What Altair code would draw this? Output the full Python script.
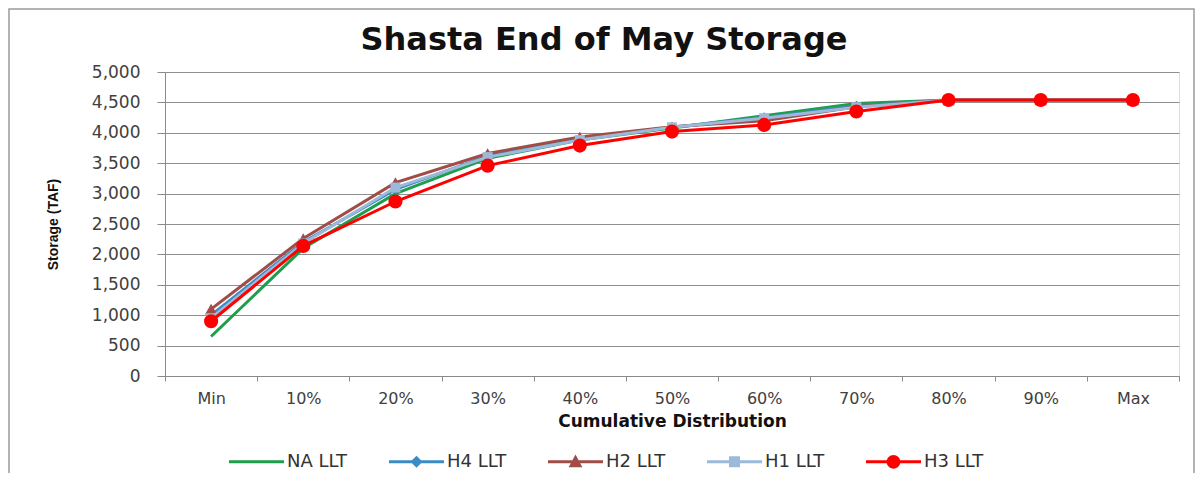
import altair as alt
import pandas as pd

categories = ["Min", "10%", "20%", "30%", "40%", "50%", "60%", "70%", "80%", "90%", "Max"]
series_names = ["NA LLT", "H4 LLT", "H2 LLT", "H1 LLT", "H3 LLT"]
na_llt = [650, 2100, 3000, 3580, 3880, 4080, 4280, 4480, 4540, 4540, 4540]
h4_llt = [1000, 2200, 3070, 3620, 3900, 4090, 4250, 4440, 4540, 4540, 4540]
h2_llt = [1100, 2260, 3180, 3660, 3930, 4100, 4200, 4430, 4540, 4540, 4540]
h1_llt = [950, 2180, 3100, 3600, 3880, 4090, 4240, 4420, 4540, 4540, 4540]
h3_llt = [900, 2140, 2870, 3460, 3790, 4020, 4130, 4350, 4540, 4540, 4540]
y_ticks = list(range(0, 5001, 500))

colors = ["#1E9E4A", "#3B8CC4", "#A04D47", "#9DB9DA", "#FF0000"]
markers = [None, "diamond", "triangle-up", "square", "circle"]
marker_sizes = [0, 110, 150, 100, 200]

# legend symbols: line segment + marker (unit space [-1,1])
LINE = "M-1,-0.055H1V0.055H-1Z"
legend_paths = [
    LINE,
    LINE + "M0,-0.22L0.22,0L0,0.22L-0.22,0Z",
    LINE + "M0,-0.26L0.25,0.2L-0.25,0.2Z",
    LINE + "M-0.2,-0.2H0.2V0.2H-0.2Z",
    LINE + "M-0.25,0A0.25,0.25 0 1,1 0.25,0A0.25,0.25 0 1,1 -0.25,0Z",
]

values = [na_llt, h4_llt, h2_llt, h1_llt, h3_llt]
rows = []
for name, vals in zip(series_names, values):
    for c, v in zip(categories, vals):
        rows.append({"series": name, "cat": c, "val": v})
df = pd.DataFrame(rows)

W, H = 1014, 304
FONT = "DejaVu Sans"

x_enc = alt.X(
    "cat:N",
    sort=categories,
    scale=alt.Scale(type="band", domain=categories, paddingInner=0, paddingOuter=0),
    axis=alt.Axis(
        title="Cumulative Distribution",
        labelAngle=0,
        tickBand="extent",
        grid=False,
        domainColor="#8a8a8a",
        tickColor="#8a8a8a",
        tickSize=5,
        labelPadding=9,
        labelFont=FONT,
        labelFontSize=16,
        labelColor="#404040",
        titleFont=FONT,
        titleFontSize=17,
        titleFontWeight="bold",
        titleColor="#111111",
        titlePadding=7,
    ),
)
y_enc = alt.Y(
    "val:Q",
    scale=alt.Scale(domain=[0, 5000], nice=False, zero=True),
    axis=alt.Axis(
        title="Storage (TAF)",
        values=y_ticks,
        format=",d",
        grid=True,
        gridColor="#8f8f8f",
        gridWidth=1,
        domainColor="#8a8a8a",
        tickColor="#8a8a8a",
        tickSize=8,
        labelPadding=17,
        labelFont=FONT,
        labelFontSize=17,
        labelColor="#404040",
        titleFont="Liberation Sans",
        titleFontSize=14,
        titleFontWeight="bold",
        titleColor="#111111",
        titlePadding=31,
    ),
)

layers = []
frame = alt.Chart(alt.Data(values=[{"f": 1}])).mark_rect(
    fill=None, fillOpacity=0, stroke="#9a9a9a", strokeWidth=1.5
).encode(
    x=alt.value(-156), x2=alt.value(W + 15), y=alt.value(-63), y2=alt.value(H + 200)
)
layers.append(frame)

for name, col, mk, ms in zip(series_names, colors, markers, marker_sizes):
    base = alt.Chart(df).transform_filter(alt.datum.series == name)
    layers.append(base.mark_line(color=col, strokeWidth=3).encode(x=x_enc, y=y_enc))
    if mk is not None:
        layers.append(
            base.mark_point(shape=mk, size=ms, filled=True, color=col, opacity=1).encode(
                x=x_enc, y=y_enc
            )
        )

legend_df = pd.DataFrame({"series": series_names})
leg = dict(
    title=None,
    orient="none",
    legendX=64,
    legendY=362,
    direction="horizontal",
    columns=5,
    symbolSize=3025,
    symbolStrokeWidth=0,
    symbolOpacity=1,
    labelOffset=3,
    columnPadding=41,
    labelFont=FONT,
    labelFontSize=18,
    labelColor="#333333",
    padding=0,
)
legend_layer = alt.Chart(legend_df).mark_point(filled=True, size=10, opacity=0).encode(
    x=alt.value(W / 2),
    y=alt.value(H / 2),
    color=alt.Color(
        "series:N",
        sort=series_names,
        scale=alt.Scale(domain=series_names, range=colors),
        legend=alt.Legend(**leg),
    ),
    shape=alt.Shape(
        "series:N",
        sort=series_names,
        scale=alt.Scale(domain=series_names, range=legend_paths),
        legend=alt.Legend(**leg),
    ),
)
layers.append(legend_layer)

chart = alt.layer(*layers).properties(
    width=W,
    height=H,
    autosize=alt.AutoSizeParams(type="none"),
    padding={"left": 157, "top": 64, "right": 16, "bottom": 97},
    title=alt.TitleParams(
        "Shasta End of May Storage",
        font=FONT,
        fontSize=32,
        fontWeight="bold",
        color="#111111",
        anchor="middle",
        frame="group",
        dx=-68,
        offset=-49,
    ),
).configure_view(stroke=None).configure(background="white")

chart.save("out.html", embed_options={"renderer": "svg", "actions": False})
